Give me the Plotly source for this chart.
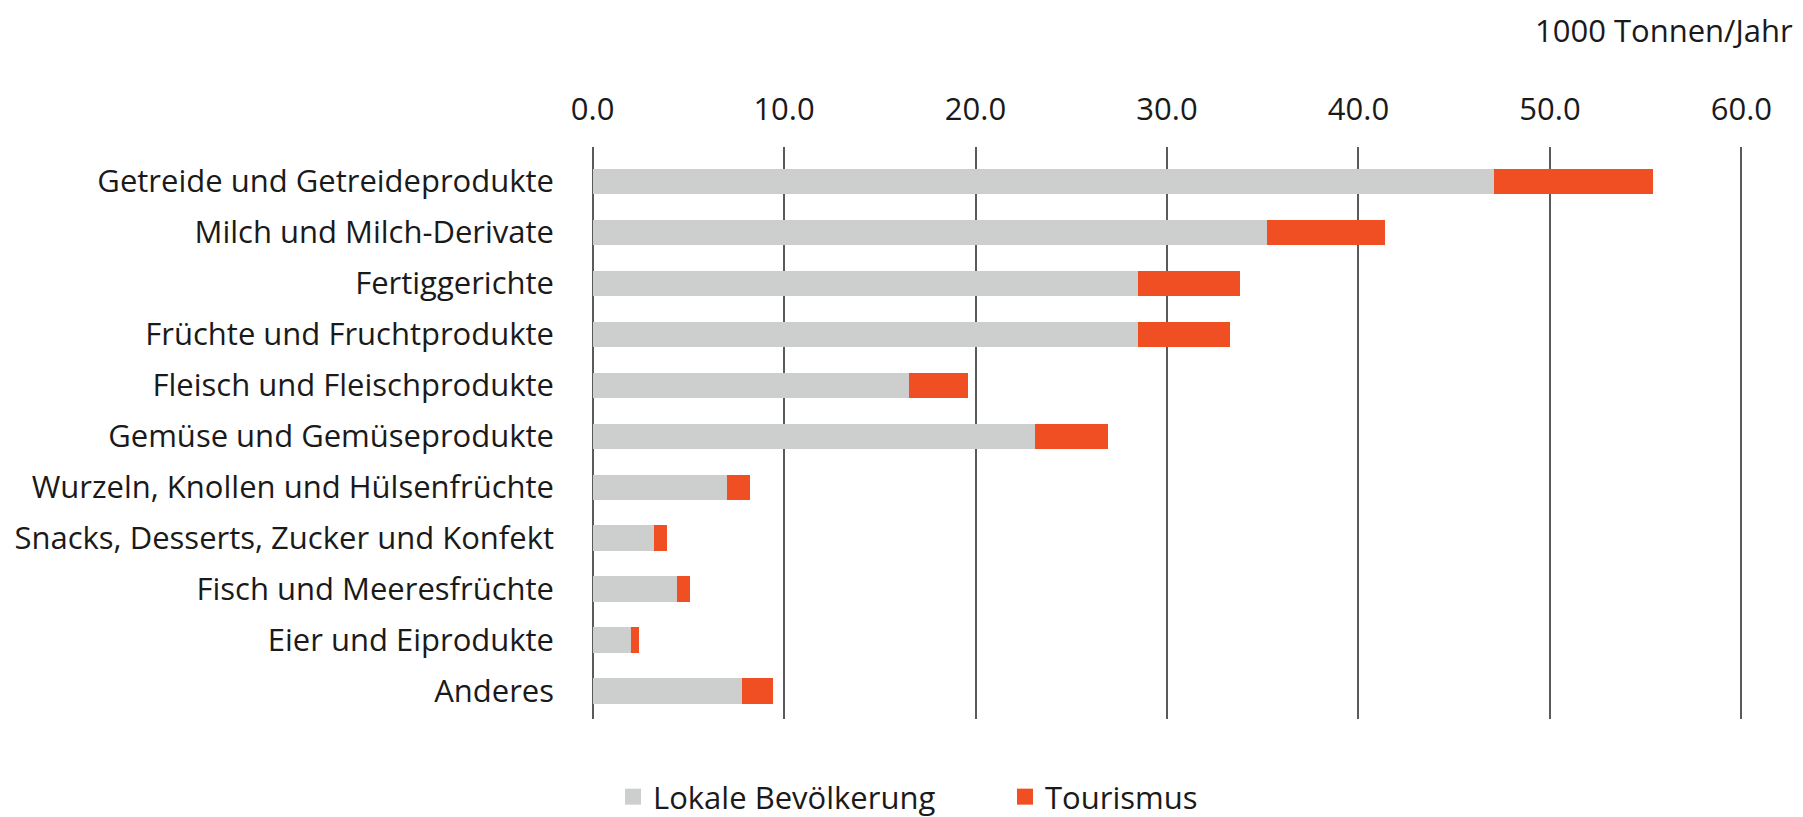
import plotly.graph_objects as go

categories = [
    "Getreide und Getreideprodukte",
    "Milch und Milch-Derivate",
    "Fertiggerichte",
    "Früchte und Fruchtprodukte",
    "Fleisch und Fleischprodukte",
    "Gemüse und Gemüseprodukte",
    "Wurzeln, Knollen und Hülsenfrüchte",
    "Snacks, Desserts, Zucker und Konfekt",
    "Fisch und Meeresfrüchte",
    "Eier und Eiprodukte",
    "Anderes",
]
lokale = [47.1, 35.2, 28.5, 28.5, 16.5, 23.1, 7.0, 3.2, 4.4, 2.0, 7.8]
tourismus = [8.3, 6.2, 5.3, 4.8, 3.1, 3.8, 1.2, 0.7, 0.7, 0.4, 1.6]
tick_vals = [0, 10, 20, 30, 40, 50, 60]
series_names = ["Lokale Bevölkerung", "Tourismus"]
unit_label = "1000 Tonnen/Jahr"

GREY = "#CDCFCE"
ORANGE = "#F04E23"
FONT = "Open Sans"
TXT = "#1a1a1a"
FS = 31
# page has an 8px body margin, so the figure is drawn 8px smaller
W, H = 1795, 809
ML, MR, MT, MB = 575, 52, 139, 98
PW, PH = W - ML - MR, H - MT - MB


def px_x(p):
    return (p - ML) / PW


def px_y(p):
    return (H - MB - p) / PH


fig = go.Figure()
fig.add_trace(go.Bar(y=categories, x=lokale, orientation="h", name=series_names[0],
                     marker=dict(color=GREY, line=dict(width=0)), width=0.5, showlegend=False))
fig.add_trace(go.Bar(y=categories, x=tourismus, orientation="h", name=series_names[1],
                     marker=dict(color=ORANGE, line=dict(width=0)), width=0.5, showlegend=False))
# legend-only entries
fig.add_trace(go.Scatter(x=[None], y=[None], mode="markers", name=series_names[0],
                         marker=dict(symbol="square", size=18, color=GREY), legend="legend"))
fig.add_trace(go.Scatter(x=[None], y=[None], mode="markers", name=series_names[1],
                         marker=dict(symbol="square", size=18, color=ORANGE), legend="legend2"))

fig.update_layout(
    width=W, height=H,
    margin=dict(l=ML, r=MR, t=MT, b=MB, pad=0, autoexpand=False),
    barmode="stack",
    plot_bgcolor="white", paper_bgcolor="white",
    font=dict(family=FONT, size=FS, color=TXT),
    xaxis=dict(
        side="top", range=[-0.5, 60.5], tickvals=tick_vals, tickformat=".1f",
        showgrid=True, gridcolor="#5a5a5a", gridwidth=2, zeroline=False,
        showline=False, ticks="", ticklabelstandoff=20, automargin=False,
        tickfont=dict(family=FONT, size=FS, color=TXT),
    ),
    yaxis=dict(
        type="category", categoryorder="array", categoryarray=categories,
        range=[10.55, -0.68], showgrid=False, zeroline=False, showline=False,
        ticks="", ticklabelstandoff=28, automargin=False,
        tickfont=dict(family=FONT, size=FS, color=TXT),
    ),
    legend=dict(orientation="h", x=px_x(605), xanchor="left",
                y=px_y(789), yanchor="middle",
                font=dict(family=FONT, size=FS, color=TXT), bgcolor="rgba(0,0,0,0)"),
    legend2=dict(orientation="h", x=px_x(997), xanchor="left",
                 y=px_y(789), yanchor="middle",
                 font=dict(family=FONT, size=FS, color=TXT), bgcolor="rgba(0,0,0,0)"),
    annotations=[dict(text=unit_label, xref="paper", yref="paper",
                      x=px_x(1786), xanchor="right",
                      y=px_y(0), yanchor="top", borderpad=0,
                      showarrow=False, font=dict(family=FONT, size=FS, color=TXT))],
)

fig.write_html("out.html")
